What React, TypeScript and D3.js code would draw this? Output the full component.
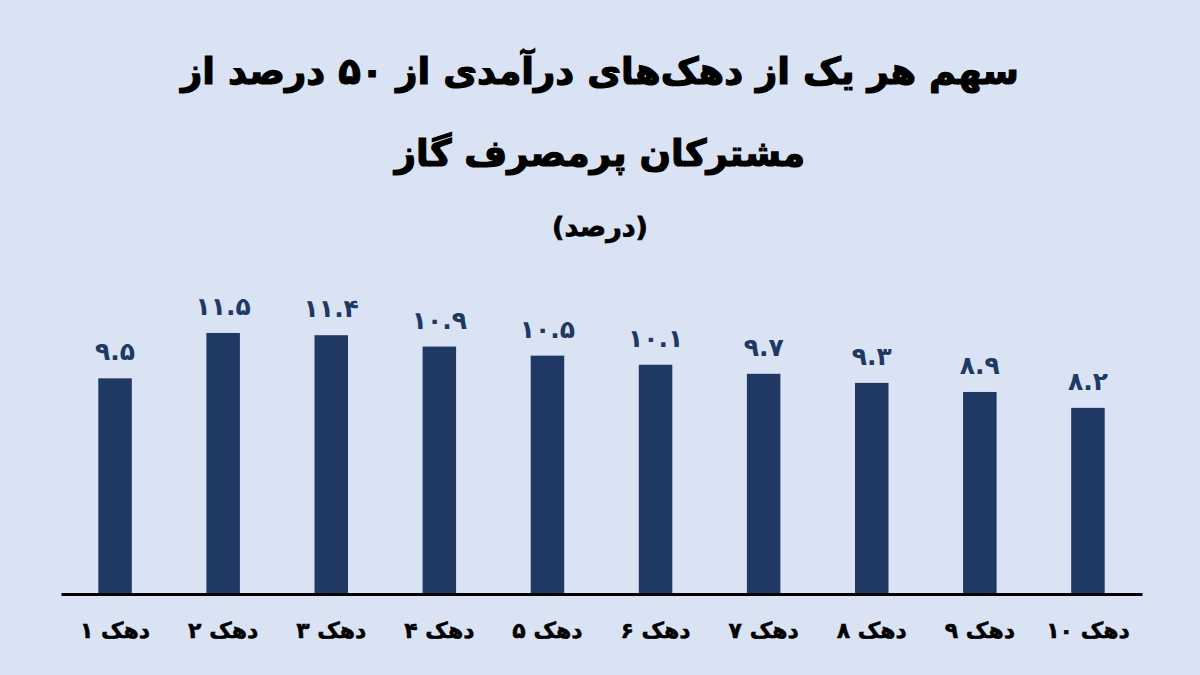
import { useEffect, useRef } from "react"
import * as d3 from "d3"

const deciles = ["1", "2", "3", "4", "5", "6", "7", "8", "9", "10"]
const shares = [9.5, 11.5, 11.4, 10.9, 10.5, 10.1, 9.7, 9.3, 8.9, 8.2]
const titleLines = ["سهم هر یک از دهک‌های درآمدی از ۵۰ درصد از", "مشترکان پرمصرف گاز"]
const subtitle = "(درصد)"

const faDigits = "۰۱۲۳۴۵۶۷۸۹"
const toFa = (s: string) => s.replace(/[0-9]/g, (d) => faDigits[+d])

export default function App() {
  const svgRef = useRef<SVGSVGElement>(null)

  useEffect(() => {
    if (!svgRef.current) return
    document.body.style.margin = "0"

    d3.select(svgRef.current).selectAll("*").remove()

    const width = 1200
    const height = 675
    const font = "'DejaVu Sans', sans-serif"

    const svg = d3.select(svgRef.current).attr("width", width).attr("height", height)

    svg.append("rect").attr("width", width).attr("height", height).attr("fill", "#dae3f3")

    // Title
    svg
      .selectAll(".title")
      .data(titleLines)
      .enter()
      .append("text")
      .attr("class", "title")
      .attr("x", width / 2)
      .attr("y", (_, i) => 84 + i * 82)
      .attr("text-anchor", "middle")
      .attr("direction", "rtl")
      .attr("font-family", font)
      .attr("font-weight", "bold")
      .attr("font-size", "37px")
      .attr("fill", "#000")
      .attr("stroke", "#000")
      .attr("stroke-width", 1.2)
      .text((d) => d)

    svg
      .append("text")
      .attr("x", width / 2)
      .attr("y", 236)
      .attr("text-anchor", "middle")
      .attr("direction", "rtl")
      .attr("font-family", font)
      .attr("font-weight", "bold")
      .attr("font-size", "27px")
      .attr("fill", "#000")
      .attr("stroke", "#000")
      .attr("stroke-width", 0.8)
      .text(subtitle)

    // Scales
    const x = d3.scaleBand().domain(deciles).range([61, 1142]).paddingInner(0.69).paddingOuter(0.345)
    const y = d3.scaleLinear().domain([0, 12]).range([594, 321.6])

    // Bars
    svg
      .selectAll(".bar")
      .data(shares)
      .enter()
      .append("rect")
      .attr("class", "bar")
      .attr("x", (_, i) => x(deciles[i])!)
      .attr("y", (d) => y(d))
      .attr("width", x.bandwidth())
      .attr("height", (d) => y(0) - y(d))
      .attr("fill", "#203864")

    // Value labels
    svg
      .selectAll(".value")
      .data(shares)
      .enter()
      .append("text")
      .attr("class", "value")
      .attr("x", (_, i) => x(deciles[i])! + x.bandwidth() / 2)
      .attr("y", (d) => y(d) - 18)
      .attr("text-anchor", "middle")
      .attr("font-family", font)
      .attr("font-weight", "bold")
      .attr("font-size", "25px")
      .attr("fill", "#203864")
      .text((d) => toFa(d.toFixed(1)))

    // X axis
    const axis = svg
      .append("g")
      .attr("transform", `translate(0,${y(0)})`)
      .call(
        d3
          .axisBottom(x)
          .tickSize(0)
          .tickPadding(28)
          .tickFormat((d) => "دهک " + toFa(d)),
      )
    axis.select(".domain").attr("stroke", "#000").attr("stroke-width", 3)
    axis
      .selectAll("text")
      .attr("font-family", font)
      .attr("font-weight", "bold")
      .attr("font-size", "22px")
      .attr("fill", "#000")
      .attr("stroke", "#000")
      .attr("stroke-width", 0.5)
      .attr("direction", "rtl")
  }, [])

  return <svg ref={svgRef} style={{ display: "block" }}></svg>
}
